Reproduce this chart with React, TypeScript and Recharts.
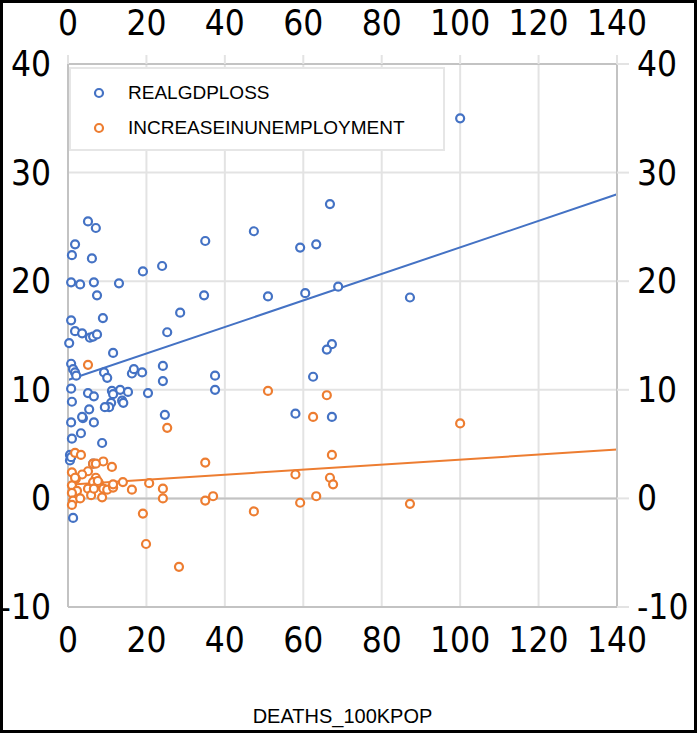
import React from "react";
import {
  ScatterChart,
  Scatter,
  XAxis,
  YAxis,
  CartesianGrid,
  ReferenceLine,
} from "recharts";

// DEATHS_100KPOP vs REALGDPLOSS
const gdpDeaths = [
  100, 66.8, 5.1, 7.1, 47.4, 35, 63.3, 59.2, 1.8, 1, 6.1, 24, 19.1, 0.8, 3.1, 6.6, 13, 68.9, 7.4, 34.7,
  51, 60.5, 87.2, 28.6, 8.9, 0.8, 1.8, 3.6, 5.6, 6.4, 7.4, 25.3, 0.3, 67.3, 66, 11.5, 0.8, 1.3, 1.8, 2.1,
  9.2, 10, 16.3, 16.8, 18.9, 24.2, 24.2, 37.5, 37.5, 62.5, 0.8, 1, 5.1, 6.6, 11.2, 11.5, 13.3, 15.3, 20.4, 11,
  10.5, 13.8, 14.1, 9.4, 5.4, 3.8, 3.6, 6.6, 0.8, 24.7, 58, 67.3, 3.3, 1, 8.7, 0.5, 0.5, 0.8, 6.4, 1.3,
];
const realGdpLoss = [
  35, 27.1, 25.5, 24.9, 24.6, 23.7, 23.4, 23.1, 23.4, 22.4, 22.1, 21.4, 20.9, 19.9, 19.7, 19.9, 19.8, 19.5, 18.7, 18.7,
  18.6, 18.9, 18.5, 17.1, 16.6, 16.4, 15.4, 15.2, 14.8, 14.9, 15.1, 15.3, 14.3, 14.2, 13.7, 13.4, 12.4, 11.9, 11.6, 11.3,
  11.6, 11.1, 11.5, 11.9, 11.6, 12.2, 10.8, 11.3, 10, 11.2, 10.1, 8.9, 9.7, 9.4, 9.9, 9.6, 10, 9.8, 9.7, 8.8,
  8.4, 9, 8.8, 8.4, 8.2, 7.4, 7.5, 7, 7, 7.7, 7.8, 7.5, 6, 5.5, 5.1, 4, 3.5, 3.8, 3.2, -1.8,
];

// DEATHS_100KPOP vs INCREASEINUNEMPLOYMENT
const unempDeaths = [
  100, 51, 66, 62.5, 25.3, 5.1, 67.3, 35, 58, 66.8, 67.6, 24.2, 37, 35, 63.3, 59.2, 87.2, 47.4, 19.1, 19.9,
  28.3, 20.7, 24.2, 1.8, 3.3, 9, 11.2, 6.4, 7.1, 5.1, 3.6, 1, 7.1, 6.4, 7.9, 7.6, 2, 1, 2.3, 1,
  1.3, 1, 3.1, 5.1, 5.9, 6.6, 9, 8.7, 10, 11.5, 11.5, 14, 16.3, 1.8,
];
const unempIncrease = [
  6.9, 9.9, 9.5, 7.5, 6.5, 12.3, 4, 3.3, 2.2, 1.9, 1.3, 0.9, 0.2, -0.2, 0.2, -0.4, -0.5, -1.2, -1.4, -4.2,
  -6.3, 1.4, 0, 4.2, 4, 3.4, 2.9, 3.2, 3.2, 2.5, 2.2, 2.4, 1.9, 1.5, 1.4, 1.6, 1.8, 1.2, 0.7, 0.5,
  -0.2, -0.6, 0, 0.9, 0.3, 0.9, 0.9, 0.1, 0.8, 1, 1.3, 1.5, 0.8, 1.9,
];

// linear trendlines, end points
const gdpTrend = [
  [0, 10.9],
  [140, 28],
];
const unempTrend = [
  [0, 1.25],
  [140, 4.5],
];

const xTicks = [0, 20, 40, 60, 80, 100, 120, 140];
const yTicks = [-10, 0, 10, 20, 30, 40];
const seriesNames = ["REALGDPLOSS", "INCREASEINUNEMPLOYMENT"];

const BLUE = "#4472C4";
const ORANGE = "#ED7D31";
const GRID = "#e3e3e3";
const AXIS = "#c3c3c3";
const TICK_FONT = '"Liberation Sans Narrow", "DejaVu Sans Condensed", "Liberation Sans", sans-serif';
const TEXT_FONT = '"Liberation Sans", Arial, sans-serif';

const gdpData = gdpDeaths.map((x, i) => ({ x, y: realGdpLoss[i] }));
const unempData = unempDeaths.map((x, i) => ({ x, y: unempIncrease[i] }));

const ring = (color: string) => (props: any) =>
  <circle cx={props.cx} cy={props.cy} r={4} fill="#fff" stroke={color} strokeWidth={2.2} />;

const tickText = (dx: number, dy: number, anchor: string) => (props: any) =>
  (
    <text
      x={props.x + dx}
      y={props.y + dy}
      textAnchor={anchor}
      dominantBaseline="central"
      fontFamily={TICK_FONT}
      fontSize={35}
      fill="#000"
    >
      {props.payload.value}
    </text>
  );

export default function App() {
  return (
    <div style={{ position: "relative", width: 697, height: 733, background: "#fff" }}>
      <style>{`body{margin:0}`}</style>
      <ScatterChart width={697} height={733} margin={{ top: 0, right: 0, bottom: 0, left: 0 }}>
        <CartesianGrid
          xAxisId="bottom"
          yAxisId="left"
          stroke={GRID}
          strokeWidth={2}
          horizontalValues={yTicks}
          verticalValues={xTicks}
        />
        <XAxis
          xAxisId="bottom"
          type="number"
          dataKey="x"
          orientation="bottom"
          domain={[0, 140]}
          ticks={xTicks}
          height={126}
          tickLine={false}
          tickSize={0}
          tickMargin={0}
          axisLine={{ stroke: AXIS, strokeWidth: 2 }}
          tick={tickText(0, 33, "middle")}
          interval={0}
          label={{
            value: "DEATHS_100KPOP",
            position: "insideBottom",
            offset: 10,
            fontFamily: TEXT_FONT,
            fontSize: 20,
            fill: "#000",
          }}
        />
        <XAxis
          xAxisId="top"
          type="number"
          dataKey="x"
          orientation="top"
          domain={[0, 140]}
          ticks={xTicks}
          height={64}
          tickSize={9}
          tickMargin={0}
          tickLine={{ stroke: GRID, strokeWidth: 2 }}
          axisLine={{ stroke: AXIS, strokeWidth: 2 }}
          tick={tickText(0, -32, "middle")}
          interval={0}
        />
        <YAxis
          yAxisId="left"
          type="number"
          dataKey="y"
          orientation="left"
          domain={[-10, 40]}
          ticks={yTicks}
          width={68}
          tickLine={false}
          tickSize={0}
          tickMargin={0}
          axisLine={{ stroke: AXIS, strokeWidth: 2 }}
          tick={tickText(-17, 0, "end")}
          interval={0}
        />
        <YAxis
          yAxisId="right"
          type="number"
          dataKey="y"
          orientation="right"
          domain={[-10, 40]}
          ticks={yTicks}
          width={80}
          tickSize={12}
          tickMargin={0}
          tickLine={{ stroke: GRID, strokeWidth: 2 }}
          axisLine={{ stroke: AXIS, strokeWidth: 2 }}
          tick={tickText(8, 0, "start")}
          interval={0}
        />
        <ReferenceLine xAxisId="bottom" yAxisId="left" y={0} stroke={AXIS} strokeWidth={2} />
        {/* secondary axes (top / right) carry the same series, drawn invisibly */}
        <Scatter
          data={gdpData}
          xAxisId="top"
          yAxisId="right"
          shape={() => <g />}
          legendType="none"
          isAnimationActive={false}
        />
        <Scatter
          name={seriesNames[0]}
          data={gdpData}
          xAxisId="bottom"
          yAxisId="left"
          shape={ring(BLUE)}
          isAnimationActive={false}
        />
        <Scatter
          name={seriesNames[1]}
          data={unempData}
          xAxisId="bottom"
          yAxisId="left"
          shape={ring(ORANGE)}
          isAnimationActive={false}
        />
        <ReferenceLine
          xAxisId="bottom"
          yAxisId="left"
          segment={gdpTrend.map(([x, y]) => ({ x, y }))}
          stroke={BLUE}
          strokeWidth={2}
        />
        <ReferenceLine
          xAxisId="bottom"
          yAxisId="left"
          segment={unempTrend.map(([x, y]) => ({ x, y }))}
          stroke={ORANGE}
          strokeWidth={2}
        />
      </ScatterChart>

      {/* legend box */}
      <div
        style={{
          position: "absolute",
          left: 69,
          top: 67,
          width: 376,
          height: 84,
          boxSizing: "border-box",
          background: "#fff",
          border: "2px solid #e6e6e6",
          fontFamily: TEXT_FONT,
          fontSize: 19,
        }}
      >
        {seriesNames.map((name, i) => (
          <div
            key={name}
            style={{ position: "absolute", left: 0, top: 11 + i * 35, height: 26, display: "flex", alignItems: "center" }}
          >
            <svg width={12} height={12} style={{ marginLeft: 22 }}>
              <circle cx={6} cy={6} r={4} fill="#fff" stroke={i === 0 ? BLUE : ORANGE} strokeWidth={2.2} />
            </svg>
            <span style={{ marginLeft: 23, whiteSpace: "nowrap" }}>{name}</span>
          </div>
        ))}
      </div>

      {/* outer frame */}
      <div
        style={{
          position: "absolute",
          left: 0,
          top: 0,
          width: 697,
          height: 733,
          boxSizing: "border-box",
          border: "3px solid #000",
          pointerEvents: "none",
        }}
      />
    </div>
  );
}
